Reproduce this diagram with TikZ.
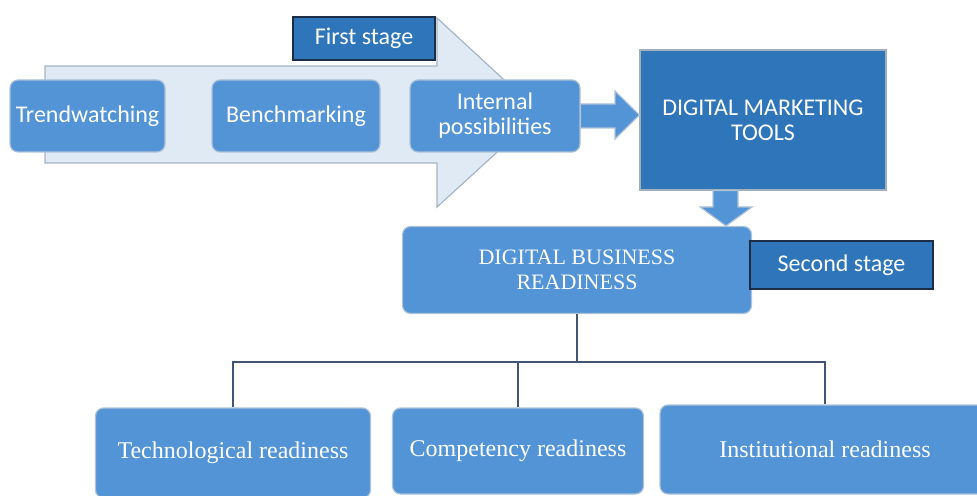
\documentclass[tikz,border=0pt]{standalone}
\usepackage{fontspec}
\setmainfont{Liberation Serif}
\newfontfamily\calib{Carlito}
\usepackage{tikz}
\usepackage{xcolor}
\definecolor{boxblue}{RGB}{82,148,213}
\definecolor{darkblue}{RGB}{46,117,186}
\definecolor{paleblue}{RGB}{224,234,245}
\definecolor{edgegrey}{RGB}{175,195,215}
\definecolor{linegrey}{RGB}{65,85,115}
\definecolor{inkblue}{RGB}{30,45,70}
\newcommand{\stagefont}{\calib\fontsize{12}{12.5}\selectfont}
\newcommand{\readyfont}{\fontsize{12}{12.5}\selectfont}

\begin{document}
\begin{tikzpicture}[x=0.5pt,y=-0.5pt,semithick]
    \tikzstyle{phase}=[draw=edgegrey,fill=boxblue,rounded corners=4pt,text=white,align=center,inner sep=2pt]
    \tikzstyle{label box}=[draw=inkblue,fill=darkblue,text=white,font=\stagefont,inner sep=2pt]
    \tikzstyle{block arrow}=[draw=edgegrey,fill=boxblue]
    \tikzstyle{branch}=[draw=linegrey,line width=0.6pt]
    \useasboundingbox (0,0) rectangle (977,496);
    % first stage: big background arrow
    \draw[draw=edgegrey!80!gray,fill=paleblue] (45,66) -- (437,66) -- (437,18) -- (540,113)
        -- (437,207) -- (437,163) -- (45,163) -- cycle;
    \node[label box,minimum width=71pt,minimum height=21.5pt] (s1) at (364,38.5) {First stage};
    \node[phase,font=\stagefont,minimum width=77.5pt,minimum height=36pt] (tw) at (87.5,116) {Trendwatching};
    \node[phase,font=\stagefont,minimum width=84pt,minimum height=36pt] (bm) at (296,116) {Benchmarking};
    \node[phase,font=\stagefont,minimum width=85pt,minimum height=36pt] (ip) at (495,116) {Internal\\possibilities};
    \node[draw=edgegrey!70!gray,fill=darkblue,text=white,font=\stagefont,align=center,
        minimum width=123pt,minimum height=70pt] (dmt) at (763,120) {DIGITAL MARKETING\\TOOLS};
    \draw[block arrow] (ip.east |- 0,104) -- (615,104) -- (615,91) -- (dmt.west |- 0,115)
        -- (615,139) -- (615,128) -- (ip.east |- 0,128) -- cycle;
    % second stage
    \node[phase,font=\fontsize{11}{12.5}\selectfont,minimum width=174.5pt,minimum height=43.5pt] (dbr) at (577,270) {DIGITAL BUSINESS\\READINESS};
    \draw[block arrow] (713,0 |- dmt.south) -- (738,0 |- dmt.south) -- (738,207) -- (752,207)
        -- (726,0 |- dbr.north) -- (700,207) -- (713,207) -- cycle;
    \node[label box,minimum width=91.5pt,minimum height=24pt] (s2) at (841.5,265) {Second stage};
    \node[phase,font=\readyfont,minimum width=137.5pt,minimum height=45pt] (tr) at (233,453) {Technological readiness};
    \node[phase,font=\readyfont,minimum width=125.5pt,minimum height=43pt] (cr) at (518,451) {Competency readiness};
    \node[phase,font=\readyfont,minimum width=165pt,minimum height=44.5pt] (ir) at (825,449.5) {Institutional readiness};
    \coordinate (j) at (dbr.south |- 0,362);
    \draw[branch] (dbr.south) -- (j);
    \draw[branch] (tr.north) |- (j) -| (ir.north);
    \draw[branch] (cr.north) -- (cr.north |- j);
\end{tikzpicture}
\end{document}
